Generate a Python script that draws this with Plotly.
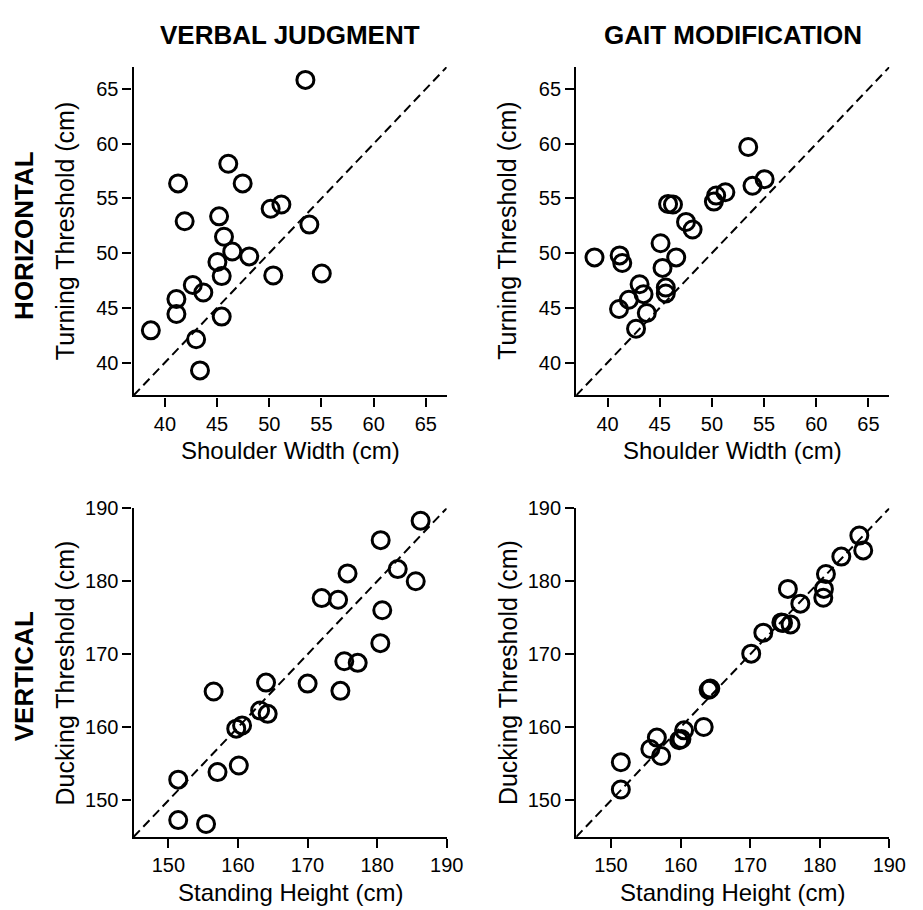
import plotly.graph_objects as go

# ---------------- data ----------------
col_titles = ["VERBAL JUDGMENT", "GAIT MODIFICATION"]
row_titles = ["HORIZONTAL", "VERTICAL"]
x_titles = ["Shoulder Width (cm)", "Standing Height (cm)"]
y_titles = ["Turning Threshold (cm)", "Ducking Threshold (cm)"]

h_ticks = [40, 45, 50, 55, 60, 65]
v_ticks = [150, 160, 170, 180, 190]
h_range = [37, 67]
v_range = [145, 190]

# Horizontal / verbal judgment
hv_x = [53.46, 46.07, 41.26, 47.45, 51.16, 50.13, 41.89, 45.19, 53.84, 45.66, 46.45, 48.08,
        45.03, 45.44, 50.38, 55.03, 42.67, 43.68, 41.10, 41.10, 45.44, 38.65, 42.99, 43.36]
hv_y = [65.83, 58.17, 56.37, 56.37, 54.44, 54.05, 52.91, 53.36, 52.61, 51.50, 50.15, 49.70,
        49.19, 47.90, 47.96, 48.14, 47.09, 46.40, 45.80, 44.44, 44.20, 42.94, 42.13, 39.28]

# Horizontal / gait modification
hg_x = [53.48, 55.05, 53.89, 51.29, 50.41, 50.19, 45.80, 46.27, 47.52, 48.15, 45.08, 38.75,
        41.16, 41.41, 46.58, 45.27, 43.07, 43.45, 45.58, 45.58, 42.04, 41.10, 43.76, 42.73]
hg_y = [59.70, 56.76, 56.16, 55.56, 55.26, 54.71, 54.50, 54.44, 52.85, 52.16, 50.90, 49.61,
        49.79, 49.10, 49.61, 48.65, 47.15, 46.25, 46.85, 46.31, 45.74, 44.89, 44.53, 43.09]

# Vertical / verbal judgment
vv_x = [186.25, 180.51, 175.75, 182.96, 185.55, 172.03, 174.39, 180.74, 180.46, 175.28, 177.21, 170.01,
        174.72, 156.50, 164.03, 163.18, 164.27, 159.75, 160.59, 160.12, 157.06, 151.41, 151.41, 155.41]
vv_y = [188.29, 185.63, 181.08, 181.67, 180.00, 177.70, 177.48, 176.04, 171.53, 169.05, 168.83, 165.99,
        165.00, 164.91, 166.13, 162.30, 161.85, 159.82, 160.27, 154.77, 153.87, 152.84, 147.30, 146.76]

# Vertical / gait modification
vg_x = [185.69, 186.25, 183.10, 180.89, 175.42, 180.60, 180.51, 177.21, 174.48, 175.80, 174.72, 171.89,
        170.15, 164.27, 164.03, 163.32, 160.50, 160.12, 159.79, 156.59, 155.65, 157.20, 151.41, 151.41]
vg_y = [186.26, 184.23, 183.38, 180.99, 178.96, 178.96, 177.75, 176.94, 174.37, 174.10, 174.30, 172.97,
        170.09, 165.32, 165.14, 160.05, 159.59, 158.40, 158.24, 158.60, 157.03, 156.08, 155.23, 151.49]

# ---------------- layout geometry ----------------
PAGE_W, PAGE_H = 923, 910
BODY_MARGIN = 8  # default browser body margin around the plot div
W, H = PAGE_W - BODY_MARGIN, PAGE_H - BODY_MARGIN
FONT = "Liberation Sans, Arial, Helvetica, sans-serif"


def px_x(p):
    return (p - BODY_MARGIN) / W


def px_y(p):
    return 1 - (p - BODY_MARGIN) / H


x_doms = [[px_x(136), px_x(455)], [px_x(587), px_x(906)]]
y_doms = [[px_y(389), px_y(56.7)], [px_y(836), px_y(503.3)]]  # row 0 = top
x_edges = [136, 587]
y_bottoms = [389, 836]
y_centers = [(389 + 56.7) / 2, (836 + 503.3) / 2]

panels = [
    (0, 0, hv_x, hv_y, h_range, h_ticks),
    (0, 1, hg_x, hg_y, h_range, h_ticks),
    (1, 0, vv_x, vv_y, v_range, v_ticks),
    (1, 1, vg_x, vg_y, v_range, v_ticks),
]

fig = go.Figure()
layout = dict(
    width=W, height=H,
    margin=dict(l=0, r=0, t=0, b=0),
    paper_bgcolor="white", plot_bgcolor="white",
    showlegend=False,
    font=dict(family=FONT, color="black", size=20),
)
annotations = []

for i, (r, c, xs, ys, rng, ticks) in enumerate(panels):
    n = i + 1
    xa = "x" if n == 1 else f"x{n}"
    ya = "y" if n == 1 else f"y{n}"
    # identity line
    fig.add_trace(go.Scatter(
        x=rng, y=rng, xaxis=xa, yaxis=ya, mode="lines",
        line=dict(color="black", width=2, dash="9px,5px"), hoverinfo="skip"))
    fig.add_trace(go.Scatter(
        x=xs, y=ys, xaxis=xa, yaxis=ya, mode="markers", cliponaxis=False,
        marker=dict(symbol="circle-open", size=17, color="black", line=dict(width=3, color="black"))))
    axis_common = dict(
        showgrid=False, zeroline=False, showline=True, linecolor="black", linewidth=2.3,
        ticks="outside", ticklen=9, tickwidth=2, tickcolor="black",
        tickfont=dict(family=FONT, size=20, color="black"), range=rng, tickvals=ticks,
    )
    layout["xaxis" if n == 1 else f"xaxis{n}"] = dict(
        axis_common, domain=x_doms[c], anchor=ya)
    layout["yaxis" if n == 1 else f"yaxis{n}"] = dict(
        axis_common, domain=y_doms[r], anchor=xa)
    # axis titles
    xc = (x_doms[c][0] + x_doms[c][1]) / 2
    annotations.append(dict(
        text=x_titles[r], xref="paper", yref="paper", x=xc, y=px_y(y_bottoms[r] + 56),
        xanchor="center", yanchor="middle", showarrow=False,
        font=dict(family=FONT, size=24, color="black")))
    annotations.append(dict(
        text=y_titles[r], xref="paper", yref="paper", x=px_x(x_edges[c] - 70), y=px_y(y_centers[r]),
        xanchor="center", yanchor="middle", textangle=-90, showarrow=False,
        font=dict(family=FONT, size=25, color="black")))

for c in range(2):
    xc = (x_doms[c][0] + x_doms[c][1]) / 2
    annotations.append(dict(
        text=f"<b>{col_titles[c]}</b>", xref="paper", yref="paper", x=xc, y=px_y(24),
        xanchor="center", yanchor="middle", showarrow=False,
        font=dict(family=FONT, size=26, color="black")))
for r in range(2):
    annotations.append(dict(
        text=f"<b>{row_titles[r]}</b>", xref="paper", yref="paper", x=px_x(24), y=px_y(y_centers[r] + 4),
        xanchor="center", yanchor="middle", textangle=-90, showarrow=False,
        font=dict(family=FONT, size=26, color="black")))

layout["annotations"] = annotations
fig.update_layout(**layout)
fig.write_html("out.html")
